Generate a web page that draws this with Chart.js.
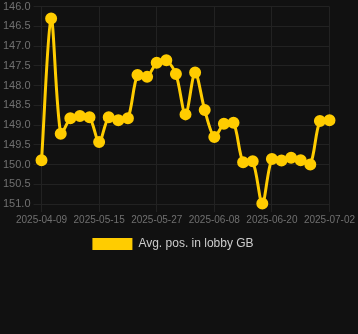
<!DOCTYPE html>
<html>
<head>
<meta charset="utf-8">
<script src="https://cdn.jsdelivr.net/npm/chart.js@4"></script>
<style>
  html, body { margin: 0; padding: 0; background: #111111; overflow: hidden; }
  #wrap { width: 358px; height: 263px; margin-top: -3px; }
</style>
</head>
<body>
<div id="wrap"><canvas id="chart"></canvas></div>
<script>
const dates = [
  "2025-04-09", "2025-04-15", "2025-04-21", "2025-04-27", "2025-05-03", "2025-05-09",
  "2025-05-15", "2025-05-17", "2025-05-19", "2025-05-21", "2025-05-23", "2025-05-25",
  "2025-05-27", "2025-05-29", "2025-05-31", "2025-06-02", "2025-06-04", "2025-06-06",
  "2025-06-08", "2025-06-10", "2025-06-12", "2025-06-14", "2025-06-16", "2025-06-18",
  "2025-06-20", "2025-06-22", "2025-06-24", "2025-06-26", "2025-06-28", "2025-06-30",
  "2025-07-02"
];
const avgPos = [
  149.89, 146.3, 149.22, 148.83, 148.77, 148.8,
  149.43, 148.8, 148.88, 148.83, 147.73, 147.78,
  147.42, 147.36, 147.71, 148.73, 147.67, 148.62,
  149.3, 148.97, 148.94, 149.94, 149.92, 150.99,
  149.86, 149.9, 149.83, 149.89, 150.0, 148.9,
  148.88
];
const seriesLabel = "Avg. pos. in lobby GB";
const yMin = 146;
const yMax = 151;

const family = "'Liberation Sans', Arial, sans-serif";

new Chart(document.getElementById("chart").getContext("2d"), {
  type: "line",
  data: {
    labels: dates,
    datasets: [
      {
        label: seriesLabel,
        data: avgPos,
        borderColor: "#ffcc00",
        backgroundColor: "#ffcc00",
        borderWidth: 3,
        pointRadius: 4.5,
        pointHoverRadius: 5,
        pointBackgroundColor: "#ffcc00",
        pointBorderColor: "#ffcc00",
        tension: 0.3,
        clip: false,
        fill: false,
      },
    ],
  },
  options: {
    responsive: true,
    maintainAspectRatio: false,
    animation: false,
    layout: { padding: { left: 0, right: 12 } },
    plugins: {
      legend: {
        position: "bottom",
        labels: {
          color: "#cccccc",
          font: { family: family, size: 12 },
          boxWidth: 40,
          boxHeight: 12,
          // flat box, no outline
          generateLabels: (chart) =>
            Chart.defaults.plugins.legend.labels
              .generateLabels(chart)
              .map((l) => ({ ...l, lineWidth: 0 })),
        },
      },
      tooltip: { enabled: false },
    },
    scales: {
      x: {
        grid: { color: "#222222", tickColor: "#222222" },
        border: { color: "#222222" },
        ticks: {
          color: "#707070",
          font: { family: family, size: 10 },
          padding: 2,
          autoSkip: false,
          maxRotation: 0,
          callback: (v, i) => (i % 6 === 0 ? dates[i] : null),
        },
        // a bit more room on the right than the last label needs
        afterFit: (s) => {
          s.paddingRight = Math.max(s.paddingRight, 28.5);
        },
      },
      y: {
        reverse: true,
        min: yMin,
        max: yMax,
        grid: { color: "#222222", tickColor: "#222222" },
        border: { color: "#222222" },
        ticks: {
          color: "#707070",
          font: { family: family, size: 11 },
          stepSize: 0.5,
          callback: (v) => v.toFixed(1),
        },
      },
    },
  },
});
</script>
</body>
</html>
